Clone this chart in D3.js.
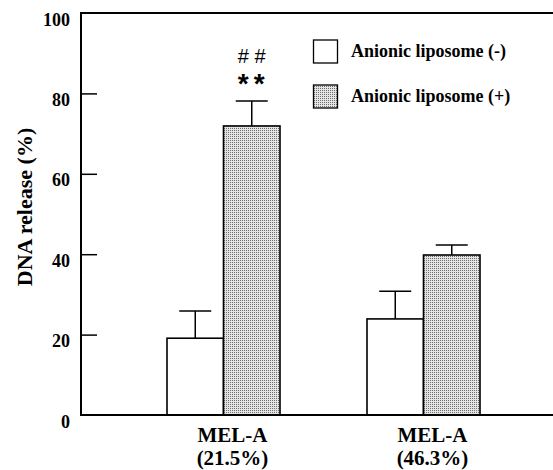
<!DOCTYPE html>
<html><head><meta charset="utf-8">
<script src="https://cdn.jsdelivr.net/npm/d3@7/dist/d3.min.js"></script>
<style>body{margin:0;background:#fff}svg{display:block}</style>
</head><body><svg id="c" width="553" height="470"></svg>
<script>
const categories = ["MEL-A\n(21.5%)", "MEL-A\n(46.3%)"];
const seriesNames = ["Anionic liposome (-)", "Anionic liposome (+)"];
const valuesMinus = [19.1, 23.9];
const errorsMinus = [6.8, 6.9];
const valuesPlus = [71.9, 39.8];
const errorsPlus = [6.2, 2.5];
const yTicks = [0, 20, 40, 60, 80, 100];
const annotations = ["# #", "**"];

const svg = d3.select("#c");
const font = "'Liberation Serif', 'Times New Roman', serif";
const sans = "'Liberation Sans', Arial, sans-serif";
const x0 = 81, x1 = 553, yTop = 13, yBot = 415;
const y = d3.scaleLinear().domain([0, 100]).range([yBot, yTop]);
const xg = d3.scaleBand().domain(categories).range([167, 480]).paddingInner(0.435).paddingOuter(0);
const xs = d3.scaleBand().domain([0, 1]).range([0, xg.bandwidth()]);

const defs = svg.append("defs");
const pat = defs.append("pattern").attr("id", "dots").attr("patternUnits", "userSpaceOnUse")
  .attr("width", 2).attr("height", 2);
pat.append("rect").attr("width", 2).attr("height", 2).attr("fill", "#e4e4e4");
pat.append("rect").attr("width", 1).attr("height", 1).attr("fill", "#707070");

// axes
const yAxis = d3.axisLeft(y).tickValues(yTicks).tickSize(-16).tickFormat(d3.format("d"));
const ga = svg.append("g").attr("transform", `translate(${x0},0)`).call(yAxis);
ga.select(".domain").remove();
ga.selectAll(".tick line").attr("stroke", "#000").attr("stroke-width", 1.5)
  .filter(d => d === 0 || d === 100).remove();
ga.selectAll(".tick text").attr("font-family", font).attr("font-weight", "bold")
  .attr("font-size", 18).attr("fill", "#000").attr("x", -11).attr("dy", "0").attr("y", 12);

svg.append("path").attr("d", `M${x1},${yTop}H${x0}V${yBot}H${x1}`)
  .attr("fill", "none").attr("stroke", "#000").attr("stroke-width", 2);

svg.append("text").attr("transform", `translate(32,207) rotate(-90)`)
  .attr("text-anchor", "middle").attr("font-family", font).attr("font-weight", "bold")
  .attr("font-size", 22).text("DNA release (%)");

// bars
const series = [
  {vals: valuesMinus, errs: errorsMinus, fill: "#fff"},
  {vals: valuesPlus, errs: errorsPlus, fill: "url(#dots)"}
];
series.forEach((s, si) => {
  categories.forEach((c, ci) => {
    const bx = xg(c) + xs(si), bw = xs.bandwidth();
    const cx = bx + bw / 2;
    const top = y(s.vals[ci]), et = y(s.vals[ci] + s.errs[ci]);
    svg.append("line").attr("x1", cx).attr("x2", cx).attr("y1", top).attr("y2", et)
      .attr("stroke", "#000").attr("stroke-width", 1.5);
    svg.append("line").attr("x1", cx - 16).attr("x2", cx + 16).attr("y1", et).attr("y2", et)
      .attr("stroke", "#000").attr("stroke-width", 1.5);
    svg.append("rect").attr("x", bx).attr("y", top).attr("width", bw).attr("height", yBot - top)
      .attr("fill", s.fill).attr("stroke", "#000").attr("stroke-width", 1.6);
  });
});
svg.append("line").attr("x1", x0).attr("x2", x1).attr("y1", yBot).attr("y2", yBot)
  .attr("stroke", "#000").attr("stroke-width", 2);

// annotations above plus bar in group 1
const ax = xg(categories[0]) + xs(1) + xs.bandwidth() / 2;
svg.append("text").attr("x", ax).attr("y", 63).attr("text-anchor", "middle")
  .attr("font-family", sans).attr("font-size", 20).text(annotations[0]);
svg.append("text").attr("x", ax + 2).attr("y", 93).attr("text-anchor", "middle")
  .attr("font-family", sans).attr("font-weight", "bold")
  .attr("font-size", 28).attr("letter-spacing", 5).text(annotations[1]);

// x labels
categories.forEach(c => {
  const lines = c.split("\n");
  const cx = xg(c) + xg.bandwidth() / 2 + 9;
  lines.forEach((l, i) => {
    svg.append("text").attr("x", cx).attr("y", 442 + i * 23).attr("text-anchor", "middle")
      .attr("font-family", font).attr("font-weight", "bold").attr("font-size", 21).text(l);
  });
});

// legend
seriesNames.forEach((n, i) => {
  const ly = 40 + i * 45;
  svg.append("rect").attr("x", 313.5).attr("y", ly).attr("width", 24).attr("height", 23)
    .attr("fill", series[i].fill).attr("stroke", "#000").attr("stroke-width", 1.3);
  svg.append("text").attr("x", 351).attr("y", ly + 17).attr("font-family", font)
    .attr("font-weight", "bold").attr("font-size", 18).text(n);
});
</script></body></html>
